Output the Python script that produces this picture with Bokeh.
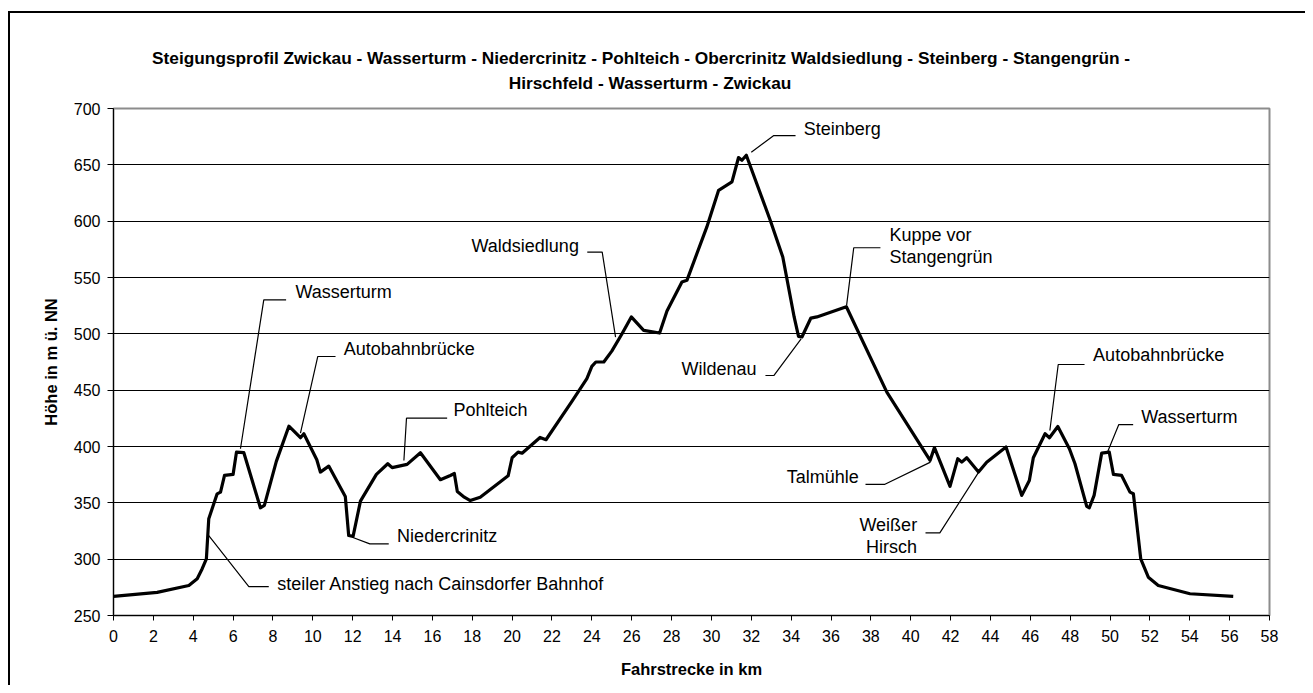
from bokeh.plotting import figure
from bokeh.layouts import column
from bokeh.models import ColumnDataSource, FixedTicker, Range1d
from bokeh.embed import file_html
from bokeh.resources import INLINE
from bokeh.core.properties import value

# ---- profile data (km, m ü. NN) ----
km = [0.0, 2.19, 3.78, 4.2, 4.45, 4.66, 4.78, 5.2, 5.37, 5.57, 6.0, 6.17, 6.54,
      7.37, 7.57, 8.17, 8.8, 9.38, 9.55, 10.2, 10.38, 10.8, 11.63, 11.8, 12.02,
      12.39, 13.19, 13.76, 13.98, 14.73, 15.4, 16.4, 16.9, 17.1, 17.25, 17.6,
      17.9, 18.4, 19.8, 20.0, 20.3, 20.5, 21.4, 21.7, 23.0, 23.75, 24.0, 24.2,
      24.6, 25.0, 25.5, 25.98, 26.6, 27.4, 27.77, 28.52, 28.77, 29.77, 30.36,
      31.03, 31.36, 31.53, 31.75, 32.95, 33.58, 34.15, 34.37, 34.54, 34.99,
      35.29, 36.77, 38.8, 40.97, 41.19, 41.97, 42.36, 42.56, 42.81, 43.4, 43.81,
      44.78, 45.57, 45.95, 46.15, 46.74, 46.96, 47.38, 47.96, 48.24, 48.83,
      48.96, 49.2, 49.58, 49.96, 50.17, 50.58, 51.0, 51.17, 51.54, 51.92, 52.42,
      54.01, 56.18]
hoehe = [267.0, 270.5, 276.6, 282.6, 291.5, 300.3, 335.9, 358.0, 359.5, 374.3,
         375.2, 395.0, 394.5, 345.6, 347.7, 386.8, 418.0, 407.8, 411.3, 388.3,
         377.3, 382.6, 355.7, 321.0, 320.2, 351.5, 375.2, 384.7, 381.2, 384.1,
         394.5, 370.5, 374.3, 376.0, 360.0, 355.0, 352.0, 355.0, 374.0, 390.0,
         395.0, 394.0, 408.0, 406.0, 440.0, 460.2, 471.1, 475.0, 475.0, 484.7,
         499.6, 515.0, 503.1, 500.7, 520.3, 546.0, 547.5, 594.9, 627.4, 634.8,
         656.5, 654.1, 658.5, 600.8, 568.2, 515.0, 497.8, 497.2, 514.0, 515.0,
         524.0, 448.3, 387.7, 399.0, 364.6, 389.2, 386.1, 390.0, 377.3, 386.1,
         399.5, 356.6, 369.9, 390.0, 411.3, 407.8, 417.8, 398.0, 384.7, 346.8,
         345.6, 356.6, 394.1, 395.0, 375.2, 374.3, 359.5, 358.1, 300.3, 284.0,
         276.6, 269.3, 266.9]

x_ticks = list(range(0, 59, 2))
y_ticks = list(range(250, 701, 50))

title_lines = ["Steigungsprofil Zwickau - Wasserturm - Niedercrinitz - Pohlteich - "
               "Obercrinitz Waldsiedlung - Steinberg - Stangengrün -",
               "Hirschfeld - Wasserturm - Zwickau"]
x_title = "Fahrstrecke in km"
y_title = "Höhe in m ü. NN"

# ---- annotations (label anchor in km / m) ----
ann_text = ["Wasserturm", "Autobahnbrücke", "Pohlteich", "Niedercrinitz",
            "steiler Anstieg nach Cainsdorfer Bahnhof", "Waldsiedlung", "Steinberg",
            "Wildenau", "Kuppe vor", "Stangengrün", "Talmühle", "Weißer", "Hirsch",
            "Autobahnbrücke", "Wasserturm"]
ann_km = [9.13, 11.55, 17.06, 14.23, 8.21, 23.35, 34.63, 32.26, 38.93, 38.93,
          37.39, 40.32, 40.32, 49.15, 51.56]
ann_m = [537.0, 486.7, 432.0, 321.0, 278.1, 578.4, 682.0, 469.0, 587.3, 568.6,
         372.7, 329.9, 310.6, 480.8, 426.6]
ann_align = ["left", "left", "left", "left", "left", "right", "left", "right",
             "left", "left", "right", "right", "right", "left", "left"]

# ---- leader lines (km / m) ----
lead_km = [[6.37, 7.54, 8.66], [9.38, 10.25, 11.14], [14.57, 14.70, 16.74],
           [11.98, 12.86, 13.81], [4.78, 6.79, 7.79], [25.19, 24.52, 23.77],
           [32.0, 33.13, 34.22], [34.50, 33.13, 32.71], [36.78, 37.14, 38.48],
           [40.99, 38.68, 37.73], [43.41, 41.46, 40.74], [46.98, 47.40, 48.72],
           [49.89, 50.44, 51.16]]
lead_m = [[398.0, 530.2, 530.2], [411.8, 479.9, 479.9], [387.6, 425.1, 425.1],
          [319.5, 313.6, 313.6], [321.0, 275.7, 275.7], [497.0, 572.5, 572.5],
          [661.2, 676.0, 676.0], [495.6, 463.0, 463.0], [525.1, 576.4, 576.4],
          [386.1, 366.3, 366.3], [377.2, 323.4, 323.4], [414.2, 472.8, 472.8],
          [395.8, 419.5, 419.5]]

FONT = "Liberation Sans"

# ---- title strip (pixel space) ----
TW, TH = 1295, 88
pt = figure(width=TW, height=TH, x_range=Range1d(0, TW), y_range=Range1d(0, TH),
            min_border=0, output_backend="svg", toolbar_location=None)
pt.axis.visible = False
pt.xgrid.visible = False
pt.ygrid.visible = False
pt.outline_line_color = None
tsrc = ColumnDataSource(dict(x=[591, 601], y=[44, 19], t=title_lines))
pt.text(x="x", y="y", text="t", source=tsrc, text_align="center",
        text_baseline="middle", text_font=value(FONT),
        text_font_size=value("17.3px"), text_font_style="bold", text_color="black")

# ---- main chart ----
p = figure(frame_width=1156, frame_height=507,
           min_border_left=103, min_border_right=36,
           min_border_top=7, min_border_bottom=70,
           x_range=Range1d(0, 58), y_range=Range1d(250, 700),
           output_backend="svg", toolbar_location=None)

p.outline_line_color = "#8c8c8c"
p.outline_line_width = 2
p.xgrid.grid_line_color = None
p.ygrid.grid_line_color = "black"
p.ygrid.grid_line_width = 1

p.xaxis.ticker = FixedTicker(ticks=x_ticks)
p.yaxis.ticker = FixedTicker(ticks=y_ticks)
for ax in (p.xaxis, p.yaxis):
    ax.axis_line_color = "black"
    ax.axis_line_width = 1
    ax.major_tick_line_color = "black"
    ax.major_tick_in = 0
    ax.minor_tick_line_color = None
    ax.major_label_text_font = FONT
    ax.major_label_text_font_size = "16px"
    ax.major_label_text_color = "black"
    ax.axis_label_text_font = FONT
    ax.axis_label_text_font_size = "16.5px"
    ax.axis_label_text_font_style = "bold"
    ax.axis_label_text_color = "black"
p.xaxis.major_tick_out = 5
p.yaxis.major_tick_out = 6
p.xaxis.major_label_standoff = 9
p.yaxis.major_label_standoff = 7
p.xaxis.axis_label = x_title
p.yaxis.axis_label = y_title
p.xaxis.axis_label_standoff = 15
p.yaxis.axis_label_standoff = 11

# leader lines
p.multi_line(xs=lead_km, ys=lead_m, line_color="black", line_width=1.2)

# profile
p.line(km, hoehe, line_color="black", line_width=3.2, line_join="round")

# annotation texts
src = ColumnDataSource(dict(x=ann_km, y=ann_m, t=ann_text, a=ann_align))
p.text(x="x", y="y", text="t", text_align="a", source=src,
       text_baseline="middle", text_font=value(FONT),
       text_font_size=value("18px"), text_color="black")

layout = column(pt, p, spacing=0)
layout.styles = {"border-left": "2px solid black", "border-top": "2px solid black",
                 "margin-left": "8px", "margin-top": "11px"}

open("out.html", "w").write(file_html(layout, INLINE))
